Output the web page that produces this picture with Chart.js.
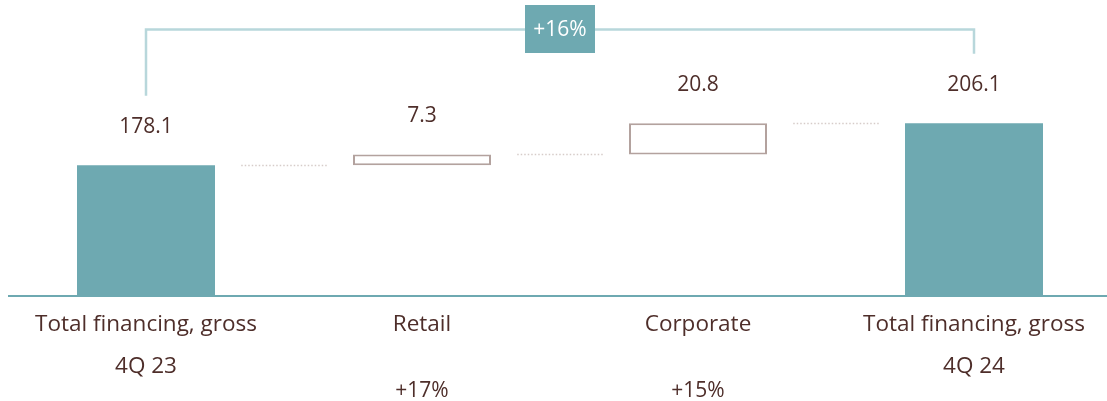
<!DOCTYPE html>
<html>
<head>
<meta charset="utf-8">
<script src="https://cdn.jsdelivr.net/npm/chart.js@4/dist/chart.umd.min.js"></script>
<style>
  html, body { margin:0; padding:0; background:#fff; overflow:hidden; }
  #wrap { width:1112px; height:401px; position:relative; }
</style>
</head>
<body>
<div id="wrap"><canvas id="c"></canvas></div>
<script>
// waterfall: totals and increments
const categories = [['Total financing, gross','4Q 23'], ['Retail'], ['Corporate'], ['Total financing, gross','4Q 24']];
const values = [178.1, 7.3, 20.8, 206.1];
const isTotal = [true, false, false, true];
const growth = ['', '+17%', '+15%', ''];
const totalGrowth = '+16%';
const Y_MIN = 91, Y_MAX = 288.3;

const TEAL = '#6ea9b1', BRACKET = '#b8d7db', BOXLINE = '#b3a29e', TXT = '#4e2e2a';
const FONT = '"Open Sans", "Noto Sans", sans-serif';

// build floating bars
let run = 0;
const bars = [], ends = [];
values.forEach((v,i)=>{
  if(isTotal[i]){ bars.push([0, v]); run = v; }
  else { bars.push([run, run+v]); run = run+v; }
  ends.push(run);
});

const extras = {
  id:'extras',
  afterDatasetsDraw(chart){
    const ctx = chart.ctx, ca = chart.chartArea;
    const x = chart.scales.x, y = chart.scales.y;
    const meta = chart.getDatasetMeta(0);
    ctx.save();
    // baseline
    ctx.strokeStyle = TEAL; ctx.lineWidth = 2;
    ctx.beginPath(); ctx.moveTo(ca.left, ca.bottom); ctx.lineTo(ca.right, ca.bottom); ctx.stroke();
    // dotted connectors
    ctx.strokeStyle = '#d6ccc9'; ctx.lineWidth = 1.5; ctx.setLineDash([1.5,2]);
    for(let i=0;i<meta.data.length-1;i++){
      const a = meta.data[i], b = meta.data[i+1];
      const x1 = a.x + a.width/2, x2 = b.x - b.width/2, pad = (x2-x1)*0.19;
      const yy = Math.round(y.getPixelForValue(ends[i])) + 0.5;
      ctx.beginPath(); ctx.moveTo(x1+pad, yy); ctx.lineTo(x2-pad, yy); ctx.stroke();
    }
    ctx.setLineDash([]);
    // value labels
    ctx.fillStyle = TXT; ctx.font = '21px ' + FONT;
    ctx.textAlign = 'center'; ctx.textBaseline = 'middle';
    const labY = [];
    meta.data.forEach((el,i)=>{
      const top = Math.min(el.y, el.base);
      labY.push(top - 38.5);
      ctx.fillText(values[i].toFixed(1), el.x, top - 38.5);
    });
    // bracket over totals
    const bx1 = meta.data[0].x, bx2 = meta.data[meta.data.length-1].x, by = 29.5;
    ctx.strokeStyle = BRACKET; ctx.lineWidth = 2.5;
    ctx.beginPath();
    ctx.moveTo(bx1, labY[0]-31); ctx.lineTo(bx1, by); ctx.lineTo(bx2, by); ctx.lineTo(bx2, labY[labY.length-1]-31);
    ctx.stroke();
    const mid = (bx1+bx2)/2;
    ctx.fillStyle = TEAL; ctx.fillRect(mid-35, 5, 70, 48);
    ctx.fillStyle = '#fff'; ctx.font = '21px ' + FONT;
    ctx.fillText(totalGrowth, mid, 30);
    // category labels
    ctx.fillStyle = TXT;
    categories.forEach((lines,i)=>{
      const cx = x.getPixelForValue(i);
      ctx.font = '22.5px ' + FONT;
      lines.forEach((t,j)=> ctx.fillText(t, cx, 325 + j*42));
      if(growth[i]){ ctx.font = '21px ' + FONT; ctx.fillText(growth[i], cx, 391); }
    });
    ctx.restore();
  }
};

new Chart(document.getElementById('c'), {
  type:'bar',
  data:{
    labels: categories,
    datasets:[{
      data: bars,
      backgroundColor: isTotal.map(t=> t ? TEAL : '#ffffff'),
      borderColor: isTotal.map(t=> t ? TEAL : BOXLINE),
      borderWidth: isTotal.map(t=> t ? 0 : 2),
      borderSkipped: false,
      barPercentage: 0.5,
      categoryPercentage: 1,
      clip: 0
    }]
  },
  options:{
    responsive:true, maintainAspectRatio:false, animation:false,
    layout:{ padding:{ left:8, right:0, top:0, bottom:105 } },
    plugins:{ legend:{display:false}, tooltip:{enabled:false} },
    scales:{
      x:{ display:false },
      y:{ display:false, min:Y_MIN, max:Y_MAX }
    }
  },
  plugins:[extras]
});
</script>
</body>
</html>
